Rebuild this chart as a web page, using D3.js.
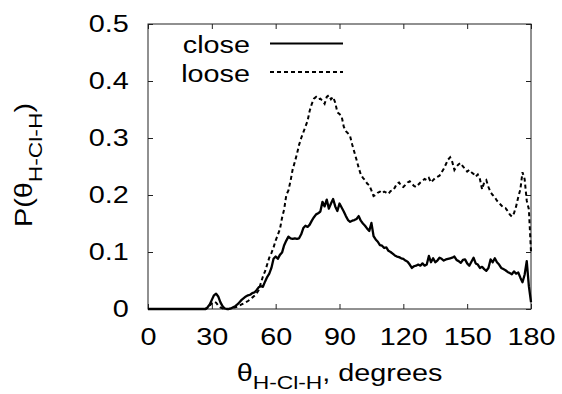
<!DOCTYPE html>
<html><head><meta charset="utf-8">
<script src="https://cdn.jsdelivr.net/npm/d3@7"></script>
<style>
html,body{margin:0;padding:0;background:#fff;}
svg{display:block;font-family:"Liberation Sans",Arial,Helvetica,sans-serif;}
</style></head>
<body>
<svg id="chart" width="562" height="394"></svg>
<script>
// angles in degrees, 0..180 step 1
const angles = d3.range(0, 181, 1);
const closeVals = [
0,0,0,0,0,0,0,0,0,0, 0,0,0,0,0,0,0,0,0,0, 0,0,0,0,0,0,0,0,
0.003,0.008,0.016,0.024,0.027,0.022,0.012,0.005,0.001,0.000,0.000,0.001,
0.003,0.005,0.008,0.012,0.016,0.019,0.022,0.024,0.025,0.028,
0.029,0.033,0.038,0.040,0.039,0.048,0.056,0.062,0.072,0.088,
0.092,0.088,0.095,0.099,0.112,0.120,0.127,0.124,0.123,0.124,
0.123,0.124,0.131,0.142,0.146,0.144,0.148,0.155,0.161,0.166,
0.168,0.171,0.188,0.180,0.192,0.176,0.185,0.193,0.180,0.172,
0.185,0.178,0.171,0.163,0.156,0.153,0.155,0.156,0.158,0.163,
0.155,0.150,0.146,0.141,0.137,0.151,0.128,0.122,0.118,0.112,
0.111,0.107,0.108,0.102,0.100,0.097,0.094,0.092,0.091,0.089,
0.088,0.085,0.083,0.078,0.072,0.075,0.076,0.078,0.076,0.080,
0.076,0.078,0.093,0.082,0.089,0.082,0.085,0.090,0.088,0.085,
0.087,0.088,0.089,0.090,0.092,0.086,0.084,0.081,0.086,0.087,
0.080,0.076,0.083,0.090,0.080,0.078,0.072,0.074,0.070,0.067,
0.072,0.087,0.082,0.089,0.082,0.078,0.072,0.070,0.068,0.065,
0.063,0.061,0.066,0.062,0.064,0.055,0.047,0.060,0.084,0.040,
0.012];
const looseVals = [
0,0,0,0,0,0,0,0,0,0, 0,0,0,0,0,0,0,0,0,0, 0,0,0,0,0,0,0,0,
0.002,0.006,0.010,0.013,0.011,0.006,0.003,0.001,0,0,0,0.001,
0.002,0.003,0.004,0.006,0.008,0.010,0.012,0.014,0.017,0.020,
0.023,0.027,0.033,0.045,0.057,0.066,0.078,0.090,0.098,0.108,
0.120,0.130,0.140,0.160,0.175,0.200,0.208,0.225,0.245,0.258,
0.272,0.288,0.300,0.310,0.320,0.330,0.348,0.360,0.369,0.372,
0.368,0.369,0.365,0.360,0.372,0.375,0.368,0.372,0.362,0.345,
0.342,0.338,0.320,0.312,0.308,0.303,0.288,0.275,0.262,0.248,
0.236,0.230,0.226,0.220,0.217,0.208,0.198,0.200,0.204,0.206,
0.203,0.206,0.204,0.202,0.207,0.208,0.213,0.220,0.222,0.216,
0.214,0.218,0.222,0.224,0.220,0.216,0.214,0.218,0.222,0.225,
0.228,0.226,0.230,0.222,0.226,0.230,0.232,0.234,0.240,0.246,
0.254,0.262,0.266,0.258,0.244,0.250,0.254,0.256,0.250,0.246,
0.241,0.244,0.240,0.237,0.232,0.236,0.228,0.210,0.222,0.226,
0.214,0.205,0.200,0.196,0.190,0.186,0.182,0.178,0.177,0.172,
0.166,0.162,0.168,0.180,0.196,0.210,0.240,0.228,0.190,0.175,
0.100];
const xTicks = [0,30,60,90,120,150,180];
const yTicks = [0,0.1,0.2,0.3,0.4,0.5];
const yTickLabels = ["0","0.1","0.2","0.3","0.4","0.5"];
const seriesNames = ["close","loose"];

const svg = d3.select("#chart");
const L = 148, R = 531, T = 24, B = 309;
const SX = 1.2; // horizontal stretch of the fonts in the original
const x = d3.scaleLinear().domain([0,180]).range([L,R]);
const y = d3.scaleLinear().domain([0,0.5]).range([B,T]);

// axes
const gb = svg.append("g").attr("transform",`translate(0,${B})`)
  .call(d3.axisBottom(x).tickValues(xTicks).tickSizeInner(-5).tickSizeOuter(0).tickPadding(19));
const gl = svg.append("g").attr("transform",`translate(${L},0)`)
  .call(d3.axisLeft(y).tickValues(yTicks).tickSizeInner(-5).tickSizeOuter(0).tickPadding(16)
    .tickFormat((d,i)=>yTickLabels[i]));
const gt = svg.append("g").attr("transform",`translate(0,${T})`)
  .call(d3.axisTop(x).tickValues(xTicks).tickSizeInner(-5).tickSizeOuter(0).tickFormat(""));
const gr = svg.append("g").attr("transform",`translate(${R},0)`)
  .call(d3.axisRight(y).tickValues(yTicks).tickSizeInner(-5).tickSizeOuter(0).tickFormat(""));
[gb,gl,gt,gr].forEach(g=>{
  g.select(".domain").remove();
  g.selectAll(".tick line").attr("stroke","#222").attr("stroke-width",1);
  g.selectAll(".tick text").attr("font-size",24).attr("fill","#000")
    .attr("font-family",'"Liberation Sans",Arial,sans-serif')
    .attr("transform",`scale(${SX},1)`);
});

svg.append("rect").attr("x",L).attr("y",T).attr("width",R-L).attr("height",B-T)
  .attr("fill","none").attr("stroke","#222").attr("stroke-width",1);

// lines
const line = d3.line().x((d,i)=>x(angles[i])).y(d=>y(d));
svg.append("path").datum(looseVals).attr("d",line).attr("fill","none")
  .attr("stroke","#000").attr("stroke-width",2).attr("stroke-dasharray","4,3");
svg.append("path").datum(closeVals).attr("d",line).attr("fill","none")
  .attr("stroke","#000").attr("stroke-width",2.3).attr("stroke-linejoin","round");

// legend
const leg = [{name:seriesNames[0], ty:53, ly:43.5, dash:null, w:2.2},
             {name:seriesNames[1], ty:81.5, ly:72, dash:"4,3", w:2}];
leg.forEach(d=>{
  svg.append("text").attr("transform",`translate(250,${d.ty}) scale(${SX},1)`)
    .attr("text-anchor","end").attr("font-size",24).text(d.name);
  svg.append("line").attr("x1",270).attr("x2",343).attr("y1",d.ly).attr("y2",d.ly)
    .attr("stroke","#000").attr("stroke-width",d.w).attr("stroke-dasharray",d.dash);
});

// x title
const xt = svg.append("text").attr("transform",`translate(${(L+R)/2},381) scale(${SX},1)`)
  .attr("text-anchor","middle").attr("font-size",24);
xt.append("tspan").text("θ");
xt.append("tspan").attr("font-size",19).attr("dy",8).text("H-Cl-H");
xt.append("tspan").attr("dy",-8).text(", degrees");

// y title
const yt = svg.append("text").attr("transform",`translate(32,165) rotate(-90) scale(${SX},1)`)
  .attr("text-anchor","middle").attr("font-size",24);
yt.append("tspan").text("P(θ");
yt.append("tspan").attr("font-size",19).attr("dy",10).text("H-Cl-H");
yt.append("tspan").attr("dy",-10).text(")");
</script>
</body></html>
